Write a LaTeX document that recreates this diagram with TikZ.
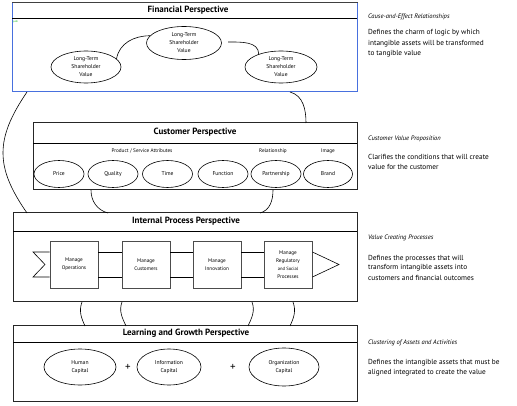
\documentclass[tikz,border=0pt]{standalone}
\usepackage{fontspec}
\setmainfont{PT Sans}
\usetikzlibrary{shapes.geometric}
\definecolor{finblue}{RGB}{72,112,222}
\begin{document}
\begin{tikzpicture}[x=1pt,y=1pt,
  box/.style={rectangle, draw=black!85, line width=0.8pt, inner sep=0pt, anchor=south west},
  oval/.style={ellipse, draw=black, line width=0.6pt, inner sep=0pt, align=center, font=\fontsize{5.6}{8}\selectfont},
  proc/.style={rectangle, draw=black!70, line width=0.9pt, minimum width=48pt, minimum height=47pt, inner sep=0pt, align=center, font=\fontsize{5.2}{8}\selectfont},
  ptitle/.style={font=\bfseries\fontsize{9}{10}\selectfont},
  sub/.style={font=\fontsize{5.2}{6}\selectfont},
  head/.style={anchor=west, inner sep=0pt, font=\itshape\fontsize{6.5}{8}\selectfont},
  desc/.style={anchor=west, inner sep=0pt, font=\fontsize{7.3}{9}\selectfont},
  link/.style={draw=black, line width=0.6pt},
  plus/.style={font=\fontsize{11}{12}\selectfont}]
\useasboundingbox (0,0) rectangle (517,405);
\fill[white] (0,0) rectangle (517,405);

% ---------------- Financial ----------------
\node[box, draw=finblue, minimum width=345pt, minimum height=89pt] (fin) at (12,313) {};
\draw[black!75, line width=0.8pt] (fin.north west) -- (fin.north east);
\draw[black, line width=0.7pt] (12,387) -- (357,387);
\node[ptitle] (fint) at (188,394.5) {Financial Perspective};
\node[text=green!70!black, font=\fontsize{2.5}{3}\selectfont, anchor=west, inner sep=0pt] (gtag) at (13,383) {path};
\node[oval, minimum width=70pt, minimum height=32pt] (fe1) at (86,338) {Long-Term\\Shareholder\\Value};
\node[oval, minimum width=75pt, minimum height=33pt] (fe2) at (184,362) {Long-Term\\Shareholder\\Value};
\node[oval, minimum width=72pt, minimum height=32pt] (fe3) at (281,338) {Long-Term\\Shareholder\\Value};
\draw[link] (fe1.15) to[out=80, in=180] (fe2.168);
\coordinate (f2s) at (228,363);
\draw[link] (f2s) to[out=0, in=90] (fe3.150);

% ---------------- Customer ----------------
\node[box, minimum width=324pt, minimum height=67pt] (cust) at (33,215) {};
\draw[black, line width=0.7pt] (33,262) -- (357,262);
\node[ptitle] (custt) at (195,272.5) {Customer Perspective};
\node[sub] (sh1) at (142,254) {Product / Service Attributes};
\node[sub] (sh2) at (273,254) {Relationship};
\node[sub] (sh3) at (328,254) {Image};
\node[oval, minimum width=50pt, minimum height=27pt] (c1) at (59,231) {Price};
\node[oval, minimum width=50pt, minimum height=27pt] (c2) at (113,231) {Quality};
\node[oval, minimum width=50pt, minimum height=27pt] (c3) at (167.5,231) {Time};
\node[oval, minimum width=50pt, minimum height=27pt] (c4) at (223,231) {Function};
\node[oval, minimum width=50pt, minimum height=27pt] (c5) at (276,231) {Partnership};
\node[oval, minimum width=49pt, minimum height=27pt] (c6) at (328,231) {Brand};

% ---------------- Internal Process ----------------
\node[box, minimum width=344pt, minimum height=89pt] (int) at (13,103) {};
\draw[black, line width=0.7pt] (13,174) -- (357,174);
\node[ptitle] (intt) at (186,183.5) {Internal Process Perspective};
\node[proc] (p1) at (74,140.5) {Manage\\Operations};
\node[proc] (p2) at (146,140.5) {Manage\\Customers};
\node[proc] (p3) at (217,140.5) {Manage\\Innovation};
\node[proc] (p4) at (288,140.5) {Manage\\Regulatory\\{\fontsize{4.6}{8}\selectfont and Social}\\Processes};
\coordinate (cht) at (33,153);
\coordinate (chm) at (45,140.5);
\coordinate (chb) at (33,128);
\coordinate (tip) at (339,140.5);
\draw[link] (p1.west |- cht) -- (cht) -- (chm) -- (chb) -- (p1.west |- chb);
\draw[link] (p1.east |- cht) -- (p2.west |- cht);
\draw[link] (p1.east |- chb) -- (p2.west |- chb);
\draw[link] (p2.east |- cht) -- (p3.west |- cht);
\draw[link] (p2.east |- chb) -- (p3.west |- chb);
\draw[link] (p3.east |- cht) -- (p4.west |- cht);
\draw[link] (p3.east |- chb) -- (p4.west |- chb);
\draw[link] (p4.east |- cht) -- (tip) -- (p4.east |- chb);

% ---------------- Learning and Growth ----------------
\node[box, minimum width=344pt, minimum height=76pt] (learn) at (13,3) {};
\draw[black, line width=0.7pt] (13,63) -- (357,63);
\node[ptitle] (learnt) at (186,71.5) {Learning and Growth Perspective};
\node[oval, minimum width=72pt, minimum height=36pt] (l1) at (80,38) {Human\\Capital};
\node[plus] (pl1) at (128,38) {+};
\node[oval, minimum width=64pt, minimum height=36pt] (l2) at (169,38) {Information\\Capital};
\node[plus] (pl2) at (233,38) {+};
\node[oval, minimum width=70pt, minimum height=38pt] (l3) at (284,38) {Organization\\Capital};

% ---------------- connectors between perspectives ----------------
\coordinate (a1) at (290,313);
\coordinate (a2) at (306,282);
\draw[link] (a1) to[out=-15, in=90] (a2);
\coordinate (b1) at (27,313);
\coordinate (b2) at (27,192);
\draw[link] (b1) .. controls (-5,266) and (-5,238) .. (b2);
\coordinate (d1) at (91,215);
\coordinate (d2) at (108,192);
\draw[link] (d1) to[out=270, in=165] (d2);
\coordinate (e1) at (273,215);
\coordinate (e2) at (260,192);
\draw[link] (e1) to[out=270, in=15] (e2);
\coordinate (g1) at (82,103);
\coordinate (g2) at (85,79);
\draw[link] (g1) to[out=250, in=115] (g2);
\coordinate (h1) at (122,103);
\coordinate (h2) at (126,79);
\draw[link] (h1) to[out=250, in=115] (h2);
\coordinate (k1) at (252,103);
\coordinate (k2) at (248,79);
\draw[link] (k1) to[out=290, in=65] (k2);
\coordinate (m1) at (293,103);
\coordinate (m2) at (290,79);
\draw[link] (m1) to[out=290, in=65] (m2);

% ---------------- right-hand explanations ----------------
\node[head] (h1t) at (368,388) {Cause-and-Effect Relationships};
\node[desc] (t1a) at (368,372) {Defines the charm of logic by which};
\node[desc] (t1b) at (368,361.5) {intangible assets will be transformed};
\node[desc] (t1c) at (368,351) {to tangible value};
\node[head] (h2t) at (368,266) {Customer Value Proposition};
\node[desc] (t2a) at (368,248.5) {Clarifies the conditions that will create};
\node[desc] (t2b) at (368,238) {value for the customer};
\node[head] (h3t) at (368,167) {Value Creating Processes};
\node[desc] (t3a) at (368,146.5) {Defines the processes that will};
\node[desc] (t3b) at (368,137) {transform intangible assets into};
\node[desc] (t3c) at (368,127.5) {customers and financial outcomes};
\node[head] (h4t) at (368,62) {Clustering of Assets and Activities};
\node[desc] (t4a) at (368,42.5) {Defines the intangible assets that must be};
\node[desc] (t4b) at (368,32.5) {aligned integrated to create the value};
\end{tikzpicture}
\end{document}
